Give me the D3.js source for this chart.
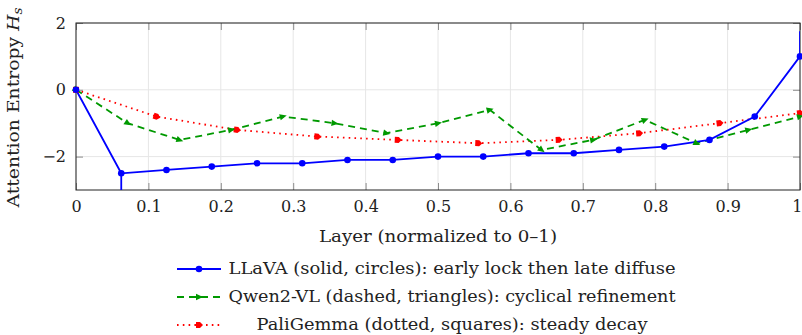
<!DOCTYPE html>
<html>
<head>
<meta charset="utf-8">
<script src="https://cdn.jsdelivr.net/npm/d3@7"></script>
<style>
  html, body { margin: 0; padding: 0; background: #fff; }
  svg { display: block; }
  text { font-family: "DejaVu Serif", "Liberation Serif", "Noto Serif", serif; fill: #222; }
</style>
</head>
<body>
<svg id="chart" width="802" height="335"></svg>
<script>
// ---- data ----
const llavaX = [0, 0.0625, 0.125, 0.1875, 0.25, 0.3125, 0.375, 0.4375, 0.5, 0.5625, 0.625, 0.6875, 0.75, 0.8125, 0.875, 0.9375, 1.0];
const llavaY = [0, -2.5, -2.4, -2.3, -2.2, -2.2, -2.1, -2.1, -2.0, -2.0, -1.9, -1.9, -1.8, -1.7, -1.5, -0.8, 1.0];
const llavaSpikes = [{x: 0.0625, from: -2.5, to: -3.3}, {x: 1.0, from: 1.0, to: 1.75}];

const qwenX = [0, 0.0714, 0.1429, 0.2143, 0.2857, 0.3571, 0.4286, 0.5, 0.5714, 0.6429, 0.7143, 0.7857, 0.8571, 0.9286, 1.0];
const qwenY = [0, -1.0, -1.5, -1.2, -0.8, -1.0, -1.3, -1.0, -0.6, -1.8, -1.5, -0.9, -1.6, -1.2, -0.8];

const paliX = [0, 0.1111, 0.2222, 0.3333, 0.4444, 0.5556, 0.6667, 0.7778, 0.8889, 1.0];
const paliY = [0, -0.8, -1.2, -1.4, -1.5, -1.6, -1.5, -1.3, -1.0, -0.7];

const xTicks = [0, 0.1, 0.2, 0.3, 0.4, 0.5, 0.6, 0.7, 0.8, 0.9, 1];
const xTickLabels = ["0", "0.1", "0.2", "0.3", "0.4", "0.5", "0.6", "0.7", "0.8", "0.9", "1"];
const yTicks = [-2, 0, 2];
const yTickLabels = ["\u22122", "0", "2"];

const seriesNames = [
  "LLaVA (solid, circles): early lock then late diffuse",
  "Qwen2-VL (dashed, triangles): cyclical refinement",
  "PaliGemma (dotted, squares): steady decay"
];
const xLabel = "Layer (normalized to 0\u20131)";
const yLabel = "Attention Entropy ";

// ---- layout ----
const svg = d3.select("#chart");
const L = 76, R = 800, T = 23, B = 190;
const x = d3.scaleLinear().domain([0, 1]).range([L, R]);
const y = d3.scaleLinear().domain([-3, 2]).range([B, T]);

const BLUE = "#0000ff", GREEN = "#009900", RED = "#ff0000";
const FONT = "'DejaVu Serif', 'Liberation Serif', 'Noto Serif', serif";

const defs = svg.append("defs");
defs.append("clipPath").attr("id", "clip")
  .append("rect").attr("x", L).attr("y", T).attr("width", R - L).attr("height", B - T);
defs.append("clipPath").attr("id", "clipwide")
  .append("rect").attr("x", L - 6).attr("y", T - 6).attr("width", R - L + 12).attr("height", B - T + 12);

// grid
const grid = svg.append("g");
grid.selectAll(".gx").data(xTicks).join("line")
  .attr("x1", d => x(d)).attr("x2", d => x(d)).attr("y1", T).attr("y2", B)
  .attr("stroke", "#e6e6e6").attr("stroke-width", 1);
grid.selectAll(".gy").data(yTicks).join("line")
  .attr("x1", L).attr("x2", R).attr("y1", d => y(d)).attr("y2", d => y(d))
  .attr("stroke", "#e6e6e6").attr("stroke-width", 1);

// axes via d3 axis generators
const xAxisB = d3.axisBottom(x).tickValues(xTicks).tickFormat((d, i) => xTickLabels[i]).tickSizeInner(-7).tickSizeOuter(0).tickPadding(14);
const gxb = svg.append("g").attr("transform", `translate(0,${B})`).call(xAxisB);
const xAxisT = d3.axisTop(x).tickValues(xTicks).tickFormat("").tickSizeInner(-7).tickSizeOuter(0);
const gxt = svg.append("g").attr("transform", `translate(0,${T})`).call(xAxisT);
const yAxisL = d3.axisLeft(y).tickValues(yTicks).tickFormat((d, i) => yTickLabels[i]).tickSizeInner(-7).tickSizeOuter(0).tickPadding(10);
const gyl = svg.append("g").attr("transform", `translate(${L},0)`).call(yAxisL);
const yAxisR = d3.axisRight(y).tickValues(yTicks).tickFormat("").tickSizeInner(-7).tickSizeOuter(0);
const gyr = svg.append("g").attr("transform", `translate(${R},0)`).call(yAxisR);

[gxb, gxt, gyl, gyr].forEach(g => {
  g.attr("font-family", FONT);
  g.select(".domain").remove();
  g.selectAll(".tick line").attr("stroke", "#8c8c8c").attr("stroke-width", 1);
  g.selectAll(".tick text").style("font-size", "16px").attr("fill", "#222")
    .style("font-family", FONT);
});
gxb.selectAll(".tick text").attr("dy", "0.71em").attr("y", 11);
gxb.selectAll(".tick text").filter(d => d === 1).attr("text-anchor", "end").attr("dx", 2);
gyl.selectAll(".tick text").attr("x", -10);

// frame
svg.append("rect").attr("x", L).attr("y", T).attr("width", R - L).attr("height", B - T)
  .attr("fill", "none").attr("stroke", "#222").attr("stroke-width", 1);

// series
const plot = svg.append("g").attr("clip-path", "url(#clipwide)");
const line = d3.line().x(d => x(d[0])).y(d => y(d[1]));
const llava = llavaX.map((v, i) => [v, llavaY[i]]);
const qwen = qwenX.map((v, i) => [v, qwenY[i]]);
const pali = paliX.map((v, i) => [v, paliY[i]]);

plot.append("path").datum(pali).attr("d", line).attr("fill", "none")
  .attr("stroke", RED).attr("stroke-width", 1.8).attr("stroke-dasharray", "1.6 4.2");
plot.append("path").datum(qwen).attr("d", line).attr("fill", "none")
  .attr("stroke", GREEN).attr("stroke-width", 1.8).attr("stroke-dasharray", "7 5");

const blueG = svg.append("g").attr("clip-path", "url(#clip)");
blueG.selectAll(".spike").data(llavaSpikes).join("line")
  .attr("x1", d => x(d.x)).attr("x2", d => x(d.x))
  .attr("y1", d => y(d.from)).attr("y2", d => y(d.to))
  .attr("stroke", BLUE).attr("stroke-width", 1.8);
plot.append("path").datum(llava).attr("d", line).attr("fill", "none")
  .attr("stroke", BLUE).attr("stroke-width", 1.8);

function angleOf(data, i) {
  const a = i > 0 ? data[i - 1] : data[i];
  const b = i > 0 ? data[i] : data[i + 1];
  return Math.atan2(y(b[1]) - y(a[1]), x(b[0]) - x(a[0])) * 180 / Math.PI;
}
const triPath = "M4,0 L-3,-3.2 L-3,3.2 Z";
const arrowSq = "M4,0 L1,-3 L-3,-3 L-3,3 L1,3 Z";

plot.selectAll(".pm").data(pali).join("path")
  .attr("d", (d, i) => i === 0 ? "M-3,-3 H3 V3 H-3 Z" : arrowSq)
  .attr("transform", (d, i) => `translate(${x(d[0])},${y(d[1])}) rotate(${i === 0 ? 0 : angleOf(pali, i)})`)
  .attr("fill", RED);
plot.selectAll(".qm").data(qwen).join("path")
  .attr("d", triPath)
  .attr("transform", (d, i) => `translate(${x(d[0])},${y(d[1])}) rotate(${angleOf(qwen, i)})`)
  .attr("fill", GREEN);
plot.selectAll(".lm").data(llava).join("circle")
  .attr("cx", d => x(d[0])).attr("cy", d => y(d[1])).attr("r", 3.3).attr("fill", BLUE);

// axis labels
svg.append("text").attr("x", (L + R) / 2).attr("y", 242).attr("text-anchor", "middle")
  .style("font-size", "16px").attr("textLength", 238).attr("lengthAdjust", "spacingAndGlyphs").text(xLabel);
const yl = svg.append("text").attr("transform", `translate(19,${(T + B) / 2 + 1}) rotate(-90)`)
  .attr("text-anchor", "middle").style("font-size", "16.5px")
  .attr("textLength", 200).attr("lengthAdjust", "spacingAndGlyphs");
yl.append("tspan").text(yLabel);
yl.append("tspan").style("font-style", "italic").text("H");
yl.append("tspan").style("font-style", "italic").style("font-size", "12px").attr("dy", 3).text("s");

// legend
const legY = [269, 297, 325];
const legW = [447, 447, 391];
const leg = svg.append("g");
const legendItems = [
  {name: seriesNames[0], color: BLUE, dash: null, marker: "circle"},
  {name: seriesNames[1], color: GREEN, dash: "7 5", marker: "tri"},
  {name: seriesNames[2], color: RED, dash: "1.6 4.2", marker: "sq"}
];
legendItems.forEach((it, i) => {
  const yy = legY[i];
  leg.append("line").attr("x1", 177).attr("x2", 221).attr("y1", yy).attr("y2", yy)
    .attr("stroke", it.color).attr("stroke-width", 1.8)
    .attr("stroke-dasharray", it.dash);
  if (it.marker === "circle") {
    leg.append("circle").attr("cx", 199).attr("cy", yy).attr("r", 3.3).attr("fill", it.color);
  } else {
    leg.append("path").attr("d", it.marker === "tri" ? triPath : arrowSq)
      .attr("transform", `translate(199,${yy})`).attr("fill", it.color);
  }
  leg.append("text").attr("x", 452).attr("y", yy + 5).attr("text-anchor", "middle")
    .style("font-size", "16px").attr("textLength", legW[i]).attr("lengthAdjust", "spacingAndGlyphs").text(it.name);
});
</script>
</body>
</html>
